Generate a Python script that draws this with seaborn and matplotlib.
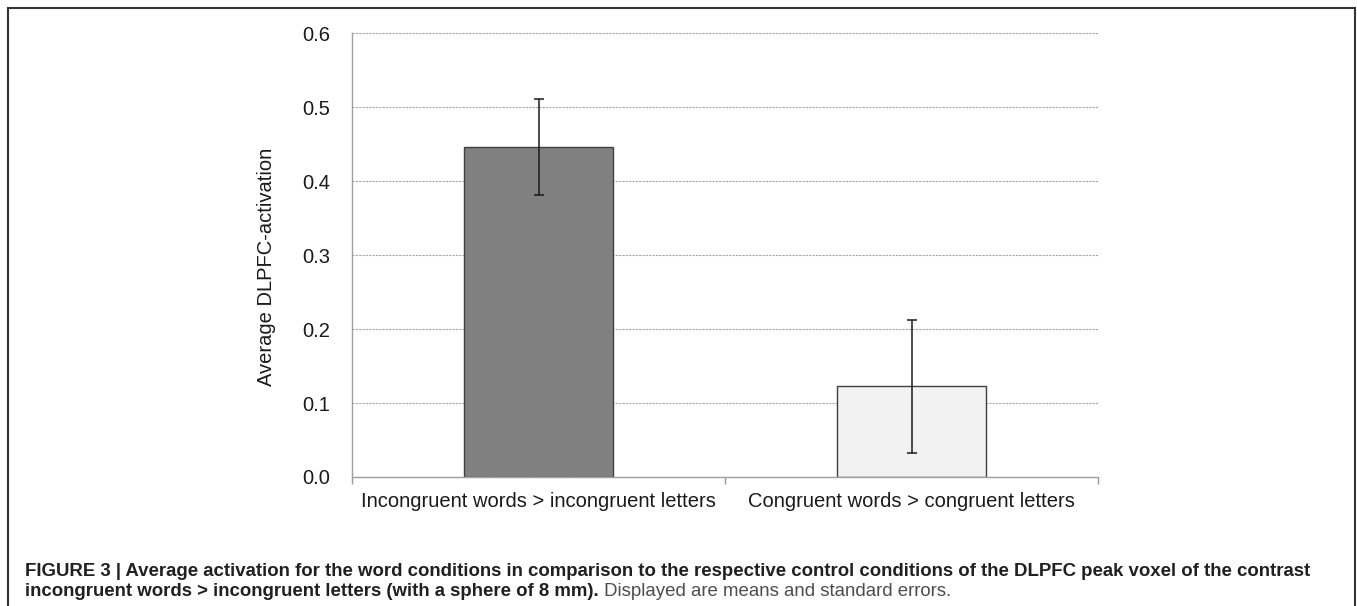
#!/usr/bin/env python3
# -*- coding: utf-8 -*-
# Balkendiagramm: mittlere DLPFC-Aktivierung mit Standardfehlern

import matplotlib
matplotlib.use("Agg")
import matplotlib.pyplot as plt
import seaborn as sns
from matplotlib.patches import Rectangle

# ---- Daten ----
conditions = ["Incongruent words > incongruent letters",
              "Congruent words > congruent letters"]
means = [0.446, 0.123]
std_errors = [0.065, 0.090]
bar_colors = ["#808080", "#f2f2f2"]
y_ticks = [0.0, 0.1, 0.2, 0.3, 0.4, 0.5, 0.6]
y_label = "Average DLPFC-activation"
caption_line1 = ("FIGURE 3 | Average activation for the word conditions in comparison to the "
                 "respective control conditions of the DLPFC peak voxel of the contrast")
caption_line2_bold = "incongruent words > incongruent letters (with a sphere of 8 mm)."
caption_line2_rest = " Displayed are means and standard errors."

# ---- Stil ----
sns.set_style("white")
plt.rcParams["font.family"] = ["Liberation Sans", "DejaVu Sans"]

W, H = 1357, 606
fig = plt.figure(figsize=(W / 100, H / 100), dpi=100)
ax = fig.add_axes([352 / W, 1 - 477 / H, (1098 - 352) / W, (477 - 33.5) / H])

sns.barplot(x=conditions, y=means, hue=conditions, palette=bar_colors,
            legend=False, width=0.4, edgecolor="#404040", linewidth=1,
            errorbar=None, ax=ax, zorder=2)
ax.errorbar(x=[0, 1], y=means, yerr=std_errors, fmt="none", ecolor="#1a1a1a",
            elinewidth=1.1, capsize=3.3, capthick=1.1, zorder=3)

ax.set_xlim(-0.5, 1.5)
ax.set_ylim(0, 0.6)
ax.set_yticks(y_ticks)
ax.set_yticklabels([f"{v:.1f}" for v in y_ticks])
ax.yaxis.grid(True, color="#a6a6a6", linestyle=(0, (2, 1)), linewidth=0.8)
for gl in ax.get_ygridlines():
    gl.set_clip_on(False)
ax.set_axisbelow(True)

for side in ["top", "right"]:
    ax.spines[side].set_visible(False)
for side in ["left", "bottom"]:
    ax.spines[side].set_color("#a0a0a0")
    ax.spines[side].set_linewidth(1)

fs_tick = 14.5
ax.set_xticks([-0.5, 0.5, 1.5], minor=True)
ax.tick_params(axis="x", which="major", length=0, pad=11, labelsize=fs_tick, labelcolor="#1a1a1a")
ax.tick_params(axis="x", which="minor", length=5, width=1, color="#999999", direction="out",
               bottom=True)
ax.tick_params(axis="y", length=5, width=1, color="#999999", pad=11, labelsize=fs_tick,
               labelcolor="#1a1a1a")

ax.set_xlabel("")
ax.set_ylabel(y_label, fontsize=fs_tick, color="#1a1a1a")
ax.yaxis.set_label_coords(-0.102, 0.4735)

# ---- Rahmen ----
fig.add_artist(Rectangle((8 / W, -0.1), (1355 - 8) / W, 1.1 - 8 / H,
                         transform=fig.transFigure, fill=False,
                         edgecolor="#333333", linewidth=1.5, clip_on=False))

# ---- Bildunterschrift ----
renderer = fig.canvas.get_renderer()
x0 = 25 / W
t1 = fig.text(x0, 1 - 571 / H, caption_line1, fontsize=11, fontweight="bold",
              color="#231f20", va="center", ha="left")
w1 = t1.get_window_extent(renderer=renderer).width
fs = 11 * (1315 - 25) / w1
t1.set_fontsize(fs)

t2 = fig.text(x0, 1 - 592 / H, caption_line2_bold, fontsize=fs, fontweight="bold",
              color="#231f20", va="center", ha="left")
x_end = t2.get_window_extent(renderer=renderer).x1
fig.text(x_end / W, 1 - 592 / H, caption_line2_rest, fontsize=fs,
         color="#4d4d4d", va="center", ha="left")

fig.savefig("out.png", dpi=100)
